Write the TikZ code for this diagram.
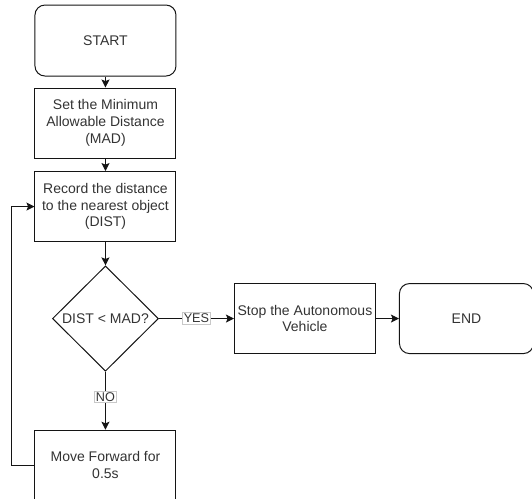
\documentclass[tikz,border=0pt]{standalone}
\usepackage{fontspec}
\setmainfont{Liberation Sans}
\definecolor{linegray}{RGB}{20,20,20}
\definecolor{textgray}{RGB}{51,51,51}
\definecolor{labelgray}{RGB}{200,200,200}
\usetikzlibrary{arrows.meta, positioning, shapes.geometric}

\begin{document}
\begin{tikzpicture}[
      box/.style={rectangle, draw=linegray, line width=0.75pt, text=textgray,
                  minimum width=105.75pt, minimum height=52.5pt, align=center,
                  inner sep=1pt, font=\fontsize{10.5}{12.5}\selectfont},
      term/.style={box, rounded corners=7.5pt},
      decision/.style={diamond, draw=linegray, line width=0.75pt, text=textgray,
                  minimum width=79.5pt, minimum height=79pt, inner sep=0pt,
                  font=\fontsize{10.5}{12.5}\selectfont},
      arrow/.style={-{Stealth[length=6pt, width=6pt, inset=1.2pt]}, line width=0.75pt, color=linegray},
      edgelabel/.style={fill=white, draw=labelgray, line width=0.4pt, inner sep=1pt,
                  text=textgray, font=\fontsize{9.5}{11}\selectfont}
    ]
    \useasboundingbox (0,0) rectangle (399pt,-374.25pt);

    % Main column
    \node[term, minimum height=53.25pt] (start) at (79.1pt,-30.4pt) {START};
    \node[box, below=8.25pt of start] (mad) {Set the Minimum\\Allowable Distance\\(MAD)};
    \node[box, below=9.4pt of mad] (dist) {Record the distance\\to the nearest object\\(DIST)};
    \node[decision, below=17.5pt of dist] (check) {DIST < MAD?};
    \node[box, below=43.5pt of check] (move) {Move Forward for\\0.5s};

    % Right branch
    \node[box, right=56.25pt of check] (stop) {Stop the Autonomous\\Vehicle};
    \node[term, minimum width=100.5pt, right=17.25pt of stop] (end) {END};

    \draw[arrow] (start) -- (mad);
    \draw[arrow] (mad) -- (dist);
    \draw[arrow] (dist) -- (check);
    \draw[arrow] (check) -- node[edgelabel, pos=0.43] {NO} (move);
    \draw[arrow] (check) -- node[edgelabel] {YES} (stop);
    \draw[arrow] (stop) -- (end);

    % Loop back
    \draw[arrow] (move.west) -- ++(-17.25pt,0) |- (dist.west);

  \end{tikzpicture}
\end{document}
